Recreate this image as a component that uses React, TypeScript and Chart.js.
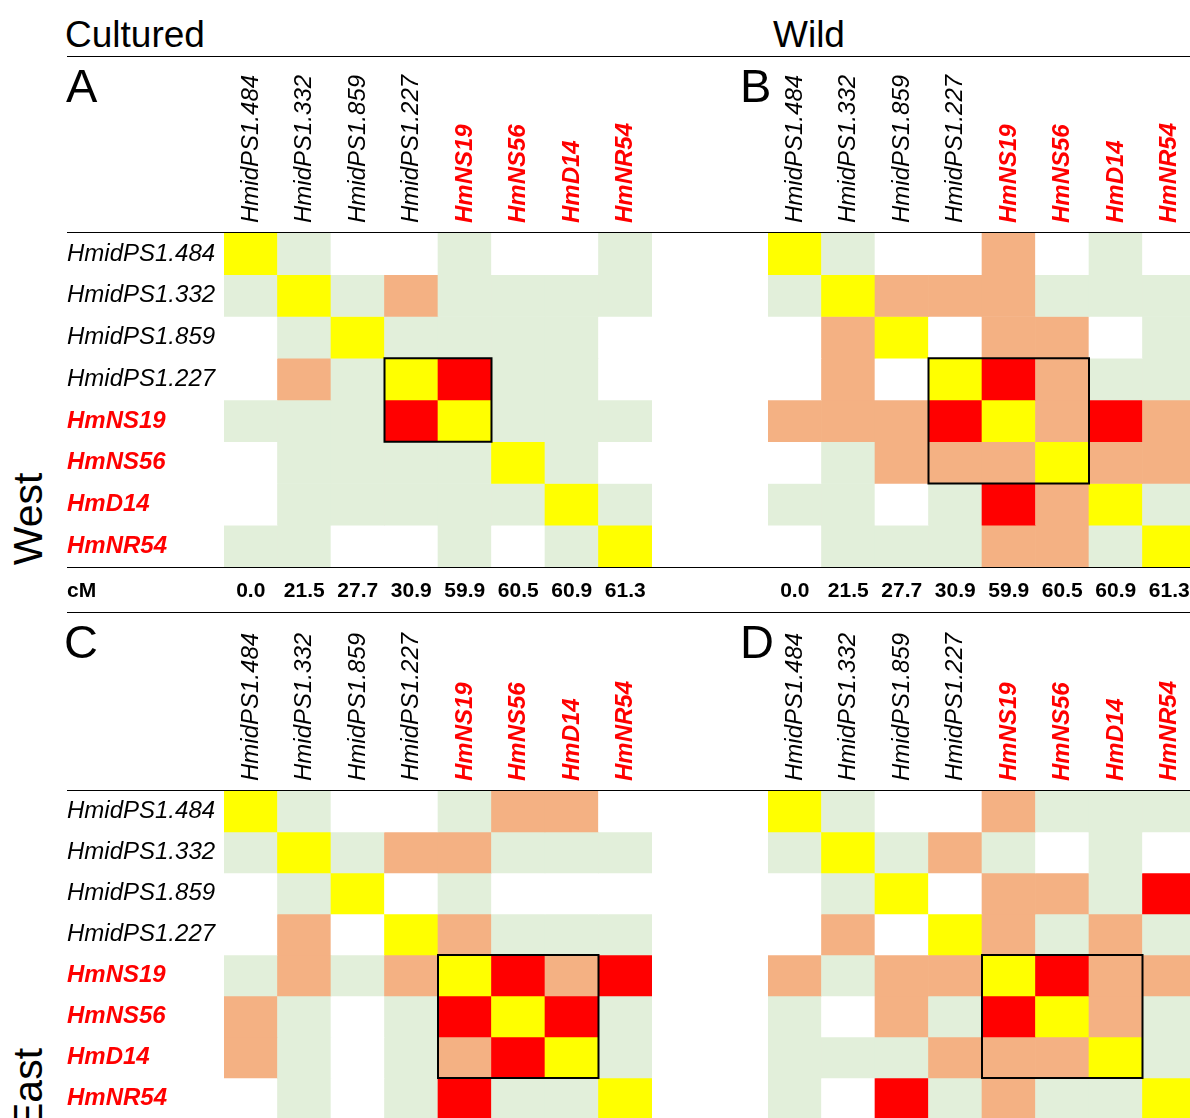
import React, { useEffect, useRef } from "react";
import { Chart, registerables } from "chart.js";

Chart.register(...registerables);

const FONT = "'Liberation Sans', Arial, sans-serif";

// Marker order (map order) and whether the marker is one of the novel (red, bold) loci
const markers = ["HmidPS1.484", "HmidPS1.332", "HmidPS1.859", "HmidPS1.227", "HmNS19", "HmNS56", "HmD14", "HmNR54"];
const isNovel = [false, false, false, false, true, true, true, true];
// Map position (cM) of each marker
const cMPositions = ["0.0", "21.5", "27.7", "30.9", "59.9", "60.5", "60.9", "61.3"];

// LD class of each marker pair: 0 none, 1 weak, 2 moderate, 3 strong, 4 same marker (diagonal)
const culturedWest = [
  [4, 1, 0, 0, 1, 0, 0, 1],
  [1, 4, 1, 2, 1, 1, 1, 1],
  [0, 1, 4, 1, 1, 1, 1, 0],
  [0, 2, 1, 4, 3, 1, 1, 0],
  [1, 1, 1, 3, 4, 1, 1, 1],
  [0, 1, 1, 1, 1, 4, 1, 0],
  [0, 1, 1, 1, 1, 1, 4, 1],
  [1, 1, 0, 0, 1, 0, 1, 4],
];
const wildWest = [
  [4, 1, 0, 0, 2, 0, 1, 0],
  [1, 4, 2, 2, 2, 1, 1, 1],
  [0, 2, 4, 0, 2, 2, 0, 1],
  [0, 2, 0, 4, 3, 2, 1, 1],
  [2, 2, 2, 3, 4, 2, 3, 2],
  [0, 1, 2, 2, 2, 4, 2, 2],
  [1, 1, 0, 1, 3, 2, 4, 1],
  [0, 1, 1, 1, 2, 2, 1, 4],
];
const culturedEast = [
  [4, 1, 0, 0, 1, 2, 2, 0],
  [1, 4, 1, 2, 2, 1, 1, 1],
  [0, 1, 4, 0, 1, 0, 0, 0],
  [0, 2, 0, 4, 2, 1, 1, 1],
  [1, 2, 1, 2, 4, 3, 2, 3],
  [2, 1, 0, 1, 3, 4, 3, 1],
  [2, 1, 0, 1, 2, 3, 4, 1],
  [0, 1, 0, 1, 3, 1, 1, 4],
];
const wildEast = [
  [4, 1, 0, 0, 2, 1, 1, 1],
  [1, 4, 1, 2, 1, 0, 1, 0],
  [0, 1, 4, 0, 2, 2, 1, 3],
  [0, 2, 0, 4, 2, 1, 2, 1],
  [2, 1, 2, 2, 4, 3, 2, 2],
  [1, 0, 2, 1, 3, 4, 2, 1],
  [1, 1, 1, 2, 2, 2, 4, 1],
  [1, 0, 3, 1, 2, 1, 1, 4],
];

// LD blocks (first and last marker index)
const culturedWestBlock = [3, 4];
const wildWestBlock = [3, 5];
const culturedEastBlock = [4, 6];
const wildEastBlock = [4, 6];

const ldColors = ["#FFFFFF", "#E2EFDA", "#F4B183", "#FF0000", "#FFFF00"];

const blockPlugin = {
  id: "ldBlock",
  afterDatasetsDraw(chart: any, _args: any, opts: any) {
    const block = opts.block;
    if (!block) return;
    const [a, b] = block;
    const x = chart.scales.x;
    const y = chart.scales.y;
    const half = (x.getPixelForValue(1) - x.getPixelForValue(0)) / 2;
    const x0 = x.getPixelForValue(a) - half;
    const x1 = x.getPixelForValue(b) + half;
    const y0 = y.getPixelForValue(a);
    const y1 = y.getPixelForValue(b + 1);
    const ctx = chart.ctx;
    ctx.save();
    ctx.strokeStyle = "#000";
    ctx.lineWidth = 2;
    ctx.strokeRect(x0, y0, x1 - x0, y1 - y0);
    ctx.restore();
  },
};

const TOP_AXIS = 175;
const ROW_AXIS = 157;
const CM_AXIS = 45;
const GRID_W = 428;

function fixSize(s: any, key: "width" | "height", v: number) {
  s[key] = v;
  s.paddingLeft = 0;
  s.paddingRight = 0;
  s.paddingTop = 0;
  s.paddingBottom = 0;
}

type PanelProps = {
  matrix: number[][];
  block: number[];
  gridLeft: number;
  gridTop: number;
  rowH: number;
  showRows: boolean;
  showCM: boolean;
};

function Panel({ matrix, block, gridLeft, gridTop, rowH, showRows, showCM }: PanelProps) {
  const ref = useRef<HTMLCanvasElement | null>(null);
  const leftW = showRows ? ROW_AXIS : 0;
  const bottomH = showCM ? CM_AXIS : 0;
  const width = leftW + GRID_W;
  const height = TOP_AXIS + rowH * 8 + bottomH;

  useEffect(() => {
    if (!ref.current) return;
    const datasets = matrix.map((row, r) => ({
      data: row.map(() => [r, r + 1]),
      backgroundColor: row.map((v) => ldColors[v]),
      borderWidth: 0,
      barPercentage: 1,
      categoryPercentage: 1,
      grouped: false,
      xAxisID: "x",
      yAxisID: "y",
    }));

    const markerFont = (c: any) => ({
      family: FONT,
      size: 24,
      style: "italic",
      weight: isNovel[c.index] ? "bold" : "normal",
    });
    const markerColor = (c: any) => (isNovel[c.index] ? "#FF0000" : "#000000");

    const scales: any = {
      x: {
        type: "category",
        labels: markers,
        position: "top",
        offset: true,
        grid: { display: false, drawTicks: false },
        border: { display: false },
        ticks: {
          autoSkip: false,
          minRotation: 90,
          maxRotation: 90,
          padding: 10,
          labelOffset: 29,
          color: markerColor,
          font: markerFont,
        },
        afterFit: (s: any) => fixSize(s, "height", TOP_AXIS),
      },
      y: {
        type: "linear",
        min: 0,
        max: 8,
        reverse: true,
        display: false,
      },
    };
    if (showRows) {
      scales.rows = {
        type: "category",
        axis: "y",
        labels: markers,
        position: "left",
        offset: true,
        grid: { display: false, drawTicks: false },
        border: { display: false },
        ticks: {
          autoSkip: false,
          crossAlign: "far",
          padding: 0,
          color: markerColor,
          font: markerFont,
        },
        afterFit: (s: any) => fixSize(s, "width", ROW_AXIS),
      };
    }
    if (showCM) {
      scales.cm = {
        type: "category",
        axis: "x",
        labels: cMPositions,
        position: "bottom",
        offset: true,
        grid: { display: false, drawTicks: false },
        border: { display: false },
        ticks: {
          autoSkip: false,
          maxRotation: 0,
          minRotation: 0,
          padding: 12,
          color: "#000000",
          font: { family: FONT, size: 21, weight: "bold" },
        },
        afterFit: (s: any) => fixSize(s, "height", CM_AXIS),
      };
    }

    const chart = new Chart(ref.current, {
      type: "bar",
      data: { labels: markers, datasets: datasets as any },
      options: {
        responsive: false,
        animation: false,
        maintainAspectRatio: false,
        layout: { padding: 0 },
        scales,
        plugins: {
          legend: { display: false },
          tooltip: { enabled: false },
          ldBlock: { block },
        } as any,
      },
      plugins: [blockPlugin],
    });
    return () => chart.destroy();
  }, []);

  return (
    <canvas
      ref={ref}
      width={width}
      height={height}
      style={{
        position: "absolute",
        left: gridLeft - leftW,
        top: gridTop - TOP_AXIS,
        width,
        height,
      }}
    />
  );
}

function Txt({ x, baseline, size, weight, children }: any) {
  return (
    <div
      style={{
        position: "absolute",
        left: x,
        top: baseline - 0.8465 * size,
        fontSize: size,
        lineHeight: `${size}px`,
        fontWeight: weight || "normal",
        whiteSpace: "nowrap",
      }}
    >
      {children}
    </div>
  );
}

function VTxt({ cx, cy, size, children }: any) {
  return (
    <div
      style={{
        position: "absolute",
        left: cx,
        top: cy,
        fontSize: size,
        lineHeight: `${size}px`,
        whiteSpace: "nowrap",
        transform: "translate(-50%, -50%) rotate(-90deg)",
      }}
    >
      {children}
    </div>
  );
}

function HLine({ y }: { y: number }) {
  return <div style={{ position: "absolute", left: 67, top: y, width: 1123, height: 1, background: "#000" }} />;
}

export default function App() {
  return (
    <div
      style={{
        position: "absolute",
        left: 0,
        top: 0,
        width: 1190,
        height: 1118,
        overflow: "hidden",
        background: "#fff",
        fontFamily: FONT,
        color: "#000",
      }}
    >
      <Panel matrix={culturedWest} block={culturedWestBlock} gridLeft={224} gridTop={233} rowH={41.75} showRows showCM />
      <Panel matrix={wildWest} block={wildWestBlock} gridLeft={768} gridTop={233} rowH={41.75} showRows={false} showCM />
      <Panel matrix={culturedEast} block={culturedEastBlock} gridLeft={224} gridTop={791} rowH={41} showRows showCM={false} />
      <Panel matrix={wildEast} block={wildEastBlock} gridLeft={768} gridTop={791} rowH={41} showRows={false} showCM={false} />

      <HLine y={56} />
      <HLine y={232} />
      <HLine y={567} />
      <HLine y={612} />
      <HLine y={790} />

      <Txt x={65} baseline={47} size={37}>Cultured</Txt>
      <Txt x={773} baseline={47} size={37}>Wild</Txt>
      <Txt x={66} baseline={102} size={47}>A</Txt>
      <Txt x={740} baseline={102} size={47}>B</Txt>
      <Txt x={64} baseline={658} size={47}>C</Txt>
      <Txt x={740} baseline={658} size={47}>D</Txt>
      <Txt x={67} baseline={597} size={21} weight="bold">cM</Txt>
      <VTxt cx={28} cy={519} size={41}>West</VTxt>
      <VTxt cx={28} cy={1089} size={41}>East</VTxt>
    </div>
  );
}
